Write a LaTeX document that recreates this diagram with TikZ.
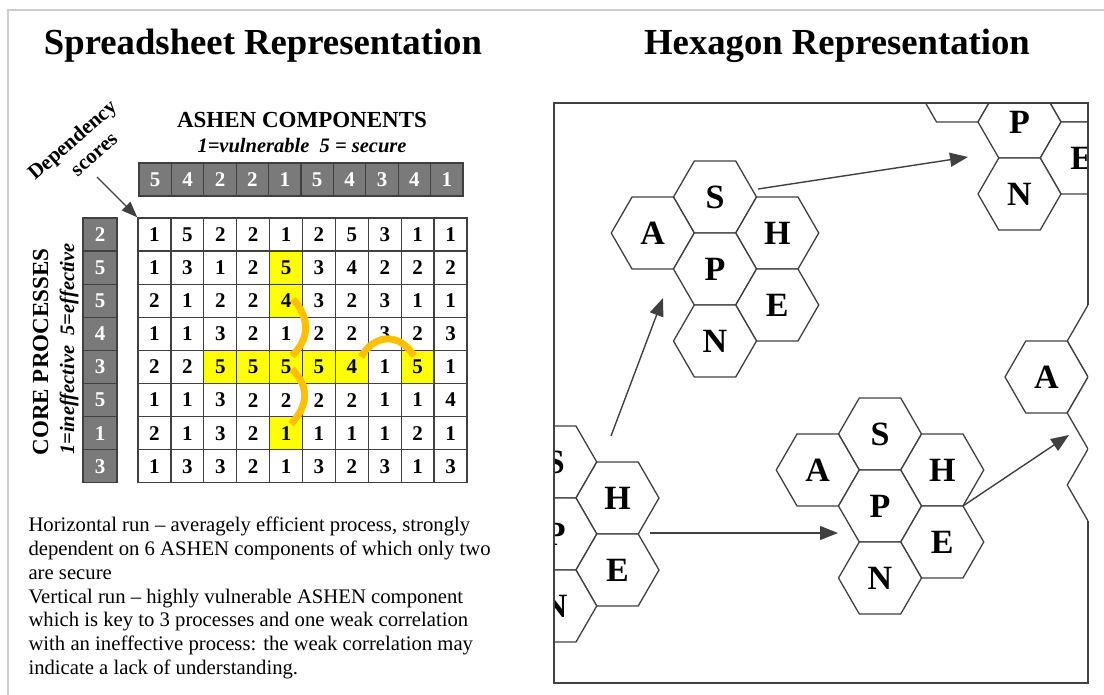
\documentclass[tikz,border=0pt]{standalone}
\usepackage{fontspec}
\setmainfont{Liberation Serif}
\usetikzlibrary{arrows.meta,shapes.geometric,calc}
\definecolor{grey@frame}{RGB}{204,204,204}
\definecolor{grey@line}{RGB}{64,64,64}
\definecolor{grey@score}{RGB}{122,122,122}
\definecolor{orange@run}{RGB}{255,192,0}
\definecolor{yellow@hl}{RGB}{255,255,0}

\begin{document}
\begin{tikzpicture}[x=1pt, y=-1pt,
    hl/1-4/.style={fill=yellow@hl}, hl/2-4/.style={fill=yellow@hl},
    hl/4-2/.style={fill=yellow@hl}, hl/4-3/.style={fill=yellow@hl},
    hl/4-4/.style={fill=yellow@hl}, hl/4-5/.style={fill=yellow@hl},
    hl/4-6/.style={fill=yellow@hl}, hl/4-8/.style={fill=yellow@hl},
    hl/6-4/.style={fill=yellow@hl}]
  \tikzstyle{cell}=[draw=grey@line, line width=1.3pt, fill=white, minimum width=32.9pt,
                    minimum height=33.1pt, inner sep=0pt, font=\fontsize{21}{21}\selectfont\bfseries]
  \tikzstyle{score}=[cell, fill=grey@score, text=white]
  \tikzstyle{hexa}=[draw=grey@line, line width=1.3pt, fill=white, regular polygon, regular polygon sides=6,
                    minimum size=83pt, inner sep=0pt, outer sep=0pt]
  \tikzstyle{hexlabel}=[font=\fontsize{34}{34}\selectfont\bfseries, inner sep=0pt]
  \tikzstyle{title}=[font=\fontsize{36.7}{40}\selectfont\bfseries, anchor=base]
  \tikzstyle{head}=[font=\fontsize{23}{23}\selectfont\bfseries, anchor=base]
  \tikzstyle{subhead}=[font=\fontsize{20.5}{20.5}\selectfont\bfseries\itshape, anchor=base]
  \tikzstyle{link}=[draw=grey@line, line width=1.4pt, -{Triangle[length=18pt,width=14pt]}]
  \tikzstyle{run}=[draw=orange@run, line width=7pt]

  % constants
  \def \GridX {138}
  \def \GridY {218}
  \def \CellW {32.9}
  \def \CellH {33.1}
  \def \HexDX {62.25}
  \def \HexDY {36}

  \useasboundingbox (0,0) rectangle (1104,695);
  \draw[grey@frame, line width=2pt] (8,695) -- (8,10) -- (1104,10);

  % titles
  \node[title] (ssTitle) at (263,55) {Spreadsheet Representation};
  \node[title] (hxTitle) at (837,55) {Hexagon Representation};

  % spreadsheet side
  \node[head] (compHead) at (302,128) {ASHEN COMPONENTS};
  \node[subhead] (compScale) at (302,153) {1=vulnerable\ \ 5 = secure};
  \node[head, rotate=90] (procHead) at (48,352) {CORE PROCESSES};
  \node[subhead, rotate=90] (procScale) at (74,349) {1=ineffective\ \ 5=effective};
  \node[font=\fontsize{21}{21}\selectfont\bfseries, align=center, rotate=41, inner sep=0pt] (depHead) at (80,149)
       {Dependency\\[4pt]\hspace*{14pt}scores};

  % ASHEN scores
  \foreach \v [count=\c from 0] in {5,4,2,2,1,5,4,3,4,1}
    \node[score, minimum width=32.4pt] (comp-\c) at ({139+(\c+0.5)*32.4}, 179.5) {\v};

  % process scores
  \foreach \v [count=\r from 0] in {2,5,5,4,3,5,1,3}
    \node[score, minimum width=34pt] (proc-\r) at (100, {\GridY+(\r+0.5)*\CellH}) {\v};

  % dependency grid
  \foreach \row [count=\r from 0] in
      {
        {1,5,2,2,1,2,5,3,1,1},
        {1,3,1,2,5,3,4,2,2,2},
        {2,1,2,2,4,3,2,3,1,1},
        {1,1,3,2,1,2,2,3,2,3},
        {2,2,5,5,5,5,4,1,5,1},
        {1,1,3,2,2,2,2,1,1,4},
        {2,1,3,2,1,1,1,1,2,1},
        {1,3,3,2,1,3,2,3,1,3}%
      }
    \foreach \v [count=\c from 0] in \row
      \node[cell, hl/\r-\c/.try] (g-\r-\c) at ({\GridX+(\c+0.5)*\CellW}, {\GridY+(\r+0.5)*\CellH}) {\v};

  \coordinate (depFoot) at (97,177);
  \draw[link, line width=1.2pt, -{Triangle[length=16pt,width=12pt]}] (depFoot) -- (g-0-0.north west);

  % runs
  \draw[run] (293,299) .. controls (310,318) and (310,338) .. (292,356);
  \draw[run] (292,369) .. controls (309,386) and (309,405) .. (291,424);
  \draw[run] (361,357) .. controls (375,333) and (400,333) .. (414,356);

  \node[font=\fontsize{20.7}{23.8}\selectfont, align=left, anchor=north west] (runText) at (25,513.5)
       {Horizontal run -- averagely efficient process, strongly\\
        dependent on 6 ASHEN components of which only two\\
        are secure\\
        Vertical run -- highly vulnerable ASHEN component\\
        which is key to 3 processes and one weak correlation\\
        with an ineffective process: the weak correlation may\\
        indicate a lack of understanding.};

  % hexagon side
  \begin{scope}
    \clip (554,103) rectangle (1088,683);
    \foreach \cl/\cx/\cy in {one/715/197, two/1019.5/50, three/1108.75/341, four/555.25/462, five/880/434}
      \foreach \lab/\dx/\dy in {S/0/0, A/-1/1, H/1/1, P/0/2, E/1/3, N/0/4}
        \node[hexa] (\cl-\lab) at ({\cx+\dx*\HexDX}, {\cy+\dy*\HexDY}) {};
    % letters of the cells that show
    \foreach \cl/\lab in
        {
          one/S, one/A, one/H, one/P, one/E, one/N,
          two/P, two/E, two/N,
          three/A,
          four/S, four/H, four/P, four/E, four/N,
          five/S, five/A, five/H, five/P, five/E, five/N%
        }
      \node[hexlabel] at (\cl-\lab) {\lab};
  \end{scope}

  \coordinate (box-ne) at (1088,103);
  \coordinate (box-nw) at (554,103);
  \coordinate (box-sw) at (554,683);
  \coordinate (box-se) at (1088,683);
  \draw[grey@line, line width=1.8pt] (three-S.120) -- (box-ne) -- (box-nw) -- (box-sw) -- (box-se) -- (three-N.240);

  % moves between clusters
  \coordinate (m1s) at (611,436);
  \coordinate (m1e) at (663,298);
  \coordinate (m2s) at (758,189);
  \coordinate (m2e) at (968,157);
  \coordinate (m3s) at (650,533);
  \coordinate (m3e) at (838,533);
  \coordinate (m4e) at (1069,435);
  \path[link] (m1s) -- (m1e);
  \path[link] (m2s) -- (m2e);
  \path[link] (m3s) -- (m3e);
  \path[link] (five-H.300) -- (m4e);
\end{tikzpicture}
\end{document}
